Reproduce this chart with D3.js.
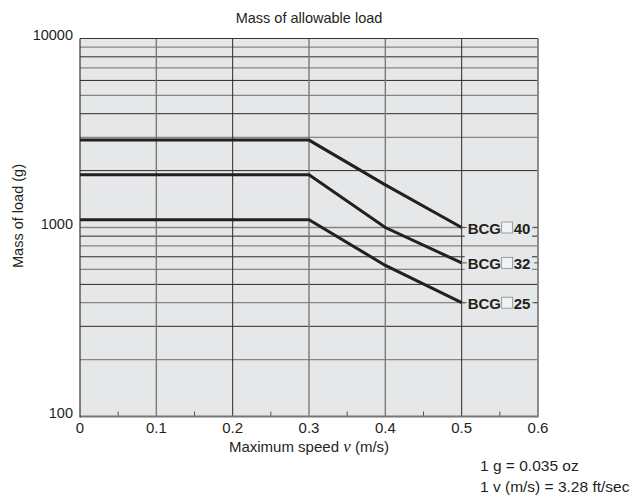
<!DOCTYPE html>
<html>
<head>
<meta charset="utf-8">
<script src="https://cdn.jsdelivr.net/npm/d3@7"></script>
<style>
  body { margin: 0; background: #fff; }
  text { font-family: "Liberation Sans", Arial, sans-serif; fill: #231f20; }
</style>
</head>
<body>
<script>
// data
var speeds = [0, 0.3, 0.4, 0.5];
var bcg40 = [2900, 2900, 1680, 1000];
var bcg32 = [1900, 1900, 1000, 650];
var bcg25 = [1100, 1100, 630, 400];
var seriesNames = ["40", "32", "25"];
var xTickLabels = [0, 0.1, 0.2, 0.3, 0.4, 0.5, 0.6];
var yTickLabels = [100, 1000, 10000];
var notes = ["1 g = 0.035 oz", "1 v (m/s) = 3.28 ft/sec"];

var width = 638, height = 495;
var margin = {top: 38.5, right: 100, bottom: 78.5, left: 80};

var x = d3.scaleLinear().domain([0, 0.6]).range([margin.left, 538]);
var y = d3.scaleLog().domain([100, 10000]).range([height - margin.bottom, margin.top]);

var svg = d3.select("body").append("svg")
    .attr("width", width)
    .attr("height", height);

// plot background
svg.append("rect")
    .attr("x", x(0)).attr("y", y(10000))
    .attr("width", x(0.6) - x(0)).attr("height", y(100) - y(10000))
    .attr("fill", "#e6e7e8");

// horizontal grid, every log step
var hGrid = [];
[100, 1000].forEach(function(d) {
    for (var k = 1; k <= 9; k++) hGrid.push(d * k);
});
hGrid = hGrid.filter(function(v) { return v > 100; });

svg.append("g").selectAll("line")
    .data(hGrid)
    .enter().append("line")
    .attr("x1", x(0)).attr("x2", x(0.6))
    .attr("y1", function(d) { return y(d); })
    .attr("y2", function(d) { return y(d); })
    .attr("stroke", function(d, i) { return i % 2 ? "#2b2b2b" : "#858585"; })
    .attr("stroke-width", function(d, i) { return i % 2 ? 1 : 1.3; });

// vertical grid
svg.append("g").selectAll("line")
    .data(xTickLabels.slice(1))
    .enter().append("line")
    .attr("x1", function(d) { return x(d); })
    .attr("x2", function(d) { return x(d); })
    .attr("y1", y(10000)).attr("y2", y(100))
    .attr("stroke", function(d, i) { return (i === 1 || i === 4) ? "#2b2b2b" : "#7a7a7a"; })
    .attr("stroke-width", function(d, i) { return (i === 1 || i === 4) ? 1 : 1.4; });

// minor x ticks at 0.05
svg.append("g").selectAll("line")
    .data(d3.range(0.05, 0.6, 0.1))
    .enter().append("line")
    .attr("x1", function(d) { return x(d); })
    .attr("x2", function(d) { return x(d); })
    .attr("y1", y(100)).attr("y2", y(100) - 5)
    .attr("stroke", "#555").attr("stroke-width", 1);

// frame
svg.append("line")
    .attr("x1", x(0)).attr("x2", x(0.6)).attr("y1", y(10000)).attr("y2", y(10000))
    .attr("stroke", "#333").attr("stroke-width", 1);
svg.append("line")
    .attr("x1", x(0)).attr("x2", x(0.6)).attr("y1", y(100)).attr("y2", y(100))
    .attr("stroke", "#777").attr("stroke-width", 2);
svg.append("line")
    .attr("x1", x(0)).attr("x2", x(0)).attr("y1", y(10000)).attr("y2", y(100) + 1)
    .attr("stroke", "#333").attr("stroke-width", 1.2);
svg.append("line")
    .attr("x1", x(0.6)).attr("x2", x(0.6)).attr("y1", y(10000)).attr("y2", y(100) + 1)
    .attr("stroke", "#888").attr("stroke-width", 1.6);

// series lines
var series = [bcg40, bcg32, bcg25];
var line = d3.line()
    .x(function(d, i) { return x(speeds[i]); })
    .y(function(d) { return y(d); });

svg.append("g").selectAll("path")
    .data(series)
    .enter().append("path")
    .attr("d", line)
    .attr("fill", "none")
    .attr("stroke", "#231f20")
    .attr("stroke-width", 3);

// series labels
var lbl = svg.append("g").selectAll("g")
    .data(series)
    .enter().append("g")
    .attr("transform", function(d) { return "translate(0," + (y(d[d.length - 1]) + 1) + ")"; });

lbl.append("rect")
    .attr("x", x(0.5) + 3).attr("y", -9)
    .attr("width", x(0.6) - x(0.5) - 9).attr("height", 18)
    .attr("fill", "#e6e7e8");
lbl.append("line")
    .attr("x1", x(0.5)).attr("x2", x(0.5) + 5).attr("y1", -1).attr("y2", -1)
    .attr("stroke", "#555").attr("stroke-width", 1);
lbl.append("line")
    .attr("x1", x(0.6) - 4).attr("x2", x(0.6)).attr("y1", -1).attr("y2", -1)
    .attr("stroke", "#555").attr("stroke-width", 1);
lbl.append("text")
    .attr("x", x(0.5) + 6).attr("y", 5)
    .style("font-size", "15px").style("font-weight", "bold")
    .text("BCG");
lbl.append("rect")
    .attr("x", x(0.5) + 40).attr("y", -6.5)
    .attr("width", 11).attr("height", 11)
    .attr("fill", "#f2f2f2").attr("stroke", "#8a8a8a").attr("stroke-width", 0.8);
lbl.append("text")
    .attr("x", x(0.5) + 52).attr("y", 5)
    .style("font-size", "15px").style("font-weight", "bold")
    .text(function(d, i) { return seriesNames[i]; });

// x tick labels
svg.append("g").selectAll("text")
    .data(xTickLabels)
    .enter().append("text")
    .attr("x", function(d) { return x(d); })
    .attr("y", y(100) + 16)
    .attr("text-anchor", "middle")
    .style("font-size", "15px")
    .text(function(d) { return d; });

// y tick labels
svg.append("g").selectAll("text")
    .data(yTickLabels)
    .enter().append("text")
    .attr("x", x(0) - 7)
    .attr("y", function(d) { return y(d) + 1; })
    .attr("text-anchor", "end")
    .style("font-size", "14.5px")
    .text(function(d) { return d; });

// title
svg.append("text")
    .attr("x", 309).attr("y", 23)
    .attr("text-anchor", "middle")
    .style("font-size", "14.5px")
    .text("Mass of allowable load");

// axis titles
var xt = svg.append("text")
    .attr("x", 309).attr("y", 451.5)
    .attr("text-anchor", "middle")
    .style("font-size", "15px");
xt.append("tspan").text("Maximum speed ");
xt.append("tspan")
    .style("font-family", "'Liberation Serif', 'DejaVu Serif', serif")
    .style("font-style", "italic").style("font-size", "17px")
    .text("v");
xt.append("tspan").text(" (m/s)");

svg.append("text")
    .attr("transform", "translate(23,216) rotate(-90)")
    .attr("text-anchor", "middle")
    .style("font-size", "14.5px")
    .text("Mass of load (g)");

// unit notes
svg.append("g").selectAll("text")
    .data(notes)
    .enter().append("text")
    .attr("x", 480)
    .attr("y", function(d, i) { return 471 + i * 20.5; })
    .style("font-size", "15.5px")
    .text(function(d) { return d; });
</script>
</body>
</html>
